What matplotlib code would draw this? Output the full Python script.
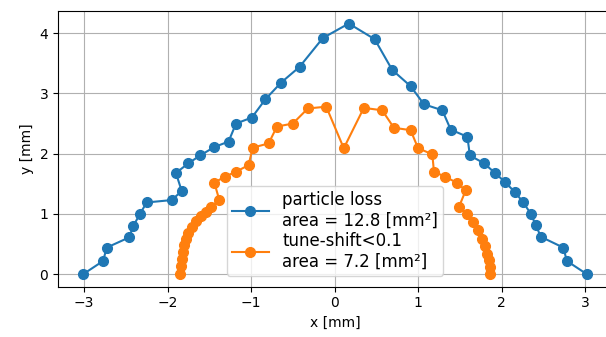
import matplotlib
matplotlib.use("Agg")
import matplotlib.pyplot as plt

# particle loss boundary
loss_x = [-3.01, -2.77, -2.73, -2.46, -2.41, -2.33, -2.25, -1.95, -1.83, -1.90, -1.75, -1.61,
          -1.44, -1.27, -1.18, -0.99, -0.83, -0.64, -0.42, -0.14, 0.17, 0.48, 0.69, 0.91,
          1.07, 1.29, 1.39, 1.59, 1.62, 1.79, 1.92, 2.04, 2.16, 2.26, 2.35, 2.41, 2.47,
          2.74, 2.78, 3.02]
loss_y = [0.0, 0.22, 0.44, 0.61, 0.80, 1.00, 1.19, 1.23, 1.38, 1.68, 1.84, 1.97,
          2.11, 2.20, 2.50, 2.60, 2.90, 3.18, 3.44, 3.92, 4.16, 3.90, 3.39, 3.12,
          2.82, 2.72, 2.40, 2.28, 1.97, 1.84, 1.68, 1.53, 1.36, 1.19, 1.00, 0.81, 0.62,
          0.44, 0.22, 0.0]

# tune-shift < 0.1 boundary
tune_x = [-1.85, -1.84, -1.83, -1.82, -1.80, -1.78, -1.75, -1.71, -1.66, -1.60, -1.54, -1.48,
          -1.38, -1.44, -1.31, -1.18, -1.03, -0.98, -0.79, -0.69, -0.50, -0.32, -0.10, 0.11,
          0.35, 0.57, 0.71, 0.91, 1.00, 1.17, 1.19, 1.32, 1.46, 1.57, 1.49, 1.58, 1.66,
          1.72, 1.77, 1.80, 1.83, 1.85, 1.86, 1.86]
tune_y = [0.0, 0.13, 0.26, 0.37, 0.48, 0.58, 0.68, 0.78, 0.88, 0.97, 1.04, 1.12,
          1.23, 1.52, 1.62, 1.70, 1.81, 2.10, 2.17, 2.45, 2.50, 2.75, 2.78, 2.09,
          2.76, 2.72, 2.43, 2.39, 2.09, 1.99, 1.70, 1.62, 1.52, 1.39, 1.12, 1.00, 0.87,
          0.73, 0.59, 0.47, 0.34, 0.23, 0.12, 0.0]

labels = ["particle loss\narea = 12.8 [mm²]", "tune-shift<0.1\narea = 7.2 [mm²]"]

fig = plt.figure(figsize=(6.06, 3.37), dpi=100)
ax = fig.add_axes([58 / 606, 50.3 / 337, 554 / 606, 275.7 / 337])
ax.plot(loss_x, loss_y, "-o", color="tab:blue", markersize=7, label=labels[0])
ax.plot(tune_x, tune_y, "-o", color="tab:orange", markersize=7, label=labels[1])
ax.grid(True)
ax.set_xlabel("x [mm]")
ax.set_ylabel("y [mm]")
ax.legend(loc="lower center", bbox_to_anchor=(0.5, 0.04), borderaxespad=0,
          fontsize=12, labelspacing=0.15, borderpad=0.3, handlelength=2.2)
fig.savefig("out.png", dpi=100)
